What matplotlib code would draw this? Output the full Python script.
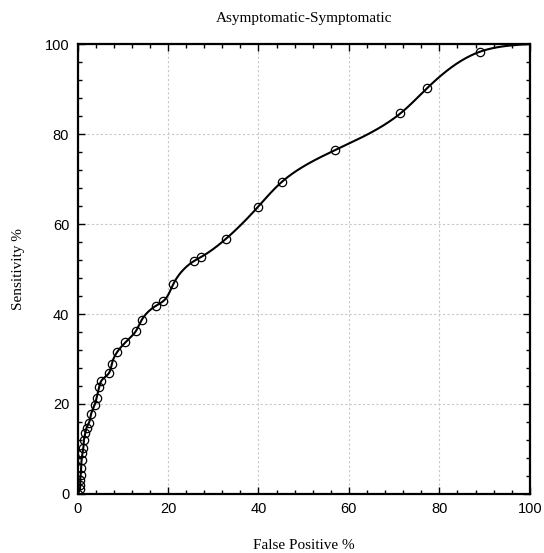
import matplotlib
matplotlib.use("Agg")
import matplotlib.pyplot as plt
import numpy as np
from matplotlib.ticker import MultipleLocator

# ROC points (false positive %, sensitivity %)
false_pos = [0.0, 0.5, 0.6, 0.6, 0.7, 0.8, 0.9, 1.1, 1.3, 1.4, 1.7, 2.0, 2.5,
             3.0, 3.8, 4.2, 4.8, 5.3, 6.9, 7.6, 8.8, 10.6, 12.9, 14.2, 17.3,
             19.0, 21.2, 25.8, 27.2, 32.8, 39.8, 45.1, 56.9, 71.4, 77.3, 89.0,
             100.0]
sensitivity = [0.0, 1.0, 2.0, 3.1, 4.2, 5.7, 7.6, 9.0, 10.2, 11.9, 13.5, 14.7,
               15.7, 17.8, 19.8, 21.3, 23.8, 25.2, 26.8, 29.0, 31.6, 33.7,
               36.2, 38.7, 41.8, 42.9, 46.7, 51.8, 52.6, 56.7, 63.7, 69.3,
               76.4, 84.6, 90.2, 98.3, 100.0]


def natural_spline(t, v, tt):
    """Natural cubic spline of v(t), evaluated at tt."""
    n = len(t)
    h = np.diff(t)
    A = np.zeros((n, n))
    r = np.zeros(n)
    A[0, 0] = A[-1, -1] = 1.0
    for i in range(1, n - 1):
        A[i, i - 1] = h[i - 1]
        A[i, i] = 2 * (h[i - 1] + h[i])
        A[i, i + 1] = h[i]
        r[i] = 6 * ((v[i + 1] - v[i]) / h[i] - (v[i] - v[i - 1]) / h[i - 1])
    m = np.linalg.solve(A, r)
    k = np.clip(np.searchsorted(t, tt) - 1, 0, n - 2)
    d = tt - t[k]
    hk = h[k]
    b = (v[k + 1] - v[k]) / hk - hk * (2 * m[k] + m[k + 1]) / 6
    return v[k] + b * d + m[k] / 2 * d ** 2 + (m[k + 1] - m[k]) / (6 * hk) * d ** 3


x = np.array(false_pos)
y = np.array(sensitivity)
seg = np.hypot(np.diff(x), np.diff(y))
t = np.concatenate([[0], np.cumsum(seg)])
tt = np.linspace(0, t[-1], 2000)
xs = np.clip(natural_spline(t, x, tt), 0, 100)
ys = np.clip(natural_spline(t, y, tt), 0, 100)

fig = plt.figure(figsize=(5.44, 5.53), dpi=100)
ax = fig.add_axes([0.1425, 0.1067, 0.8315, 0.8137])

ax.plot(xs, ys, color='black', linewidth=1.5, zorder=3)
ax.plot(false_pos[:-1], sensitivity[:-1], 'o', markerfacecolor='none',
        markeredgecolor='black', markersize=6, markeredgewidth=0.9, zorder=4)

ax.set_xlim(0, 100)
ax.set_ylim(0, 100)
ax.xaxis.set_major_locator(MultipleLocator(20))
ax.yaxis.set_major_locator(MultipleLocator(20))
ax.xaxis.set_minor_locator(MultipleLocator(4))
ax.yaxis.set_minor_locator(MultipleLocator(4))
ax.tick_params(which='both', direction='in', top=True, right=True,
               width=1.0, labelsize=10.5)
ax.tick_params(which='major', length=5, pad=6)
ax.tick_params(which='minor', length=3)
for lab in ax.get_xticklabels() + ax.get_yticklabels():
    lab.set_family('Liberation Sans')
for s in ax.spines.values():
    s.set_linewidth(1.6)

ax.grid(True, which='major', linestyle=(0, (2, 2)), color='#c8c8c8',
        linewidth=0.8)

serif = 'Liberation Serif'
ax.set_title('Asymptomatic-Symptomatic', family=serif, fontsize=11, pad=16)
ax.set_xlabel('False Positive %', family=serif, fontsize=11, labelpad=16)
ax.set_ylabel('Sensitivity %', family=serif, fontsize=11, labelpad=14)

fig.savefig('out.png', dpi=100)
